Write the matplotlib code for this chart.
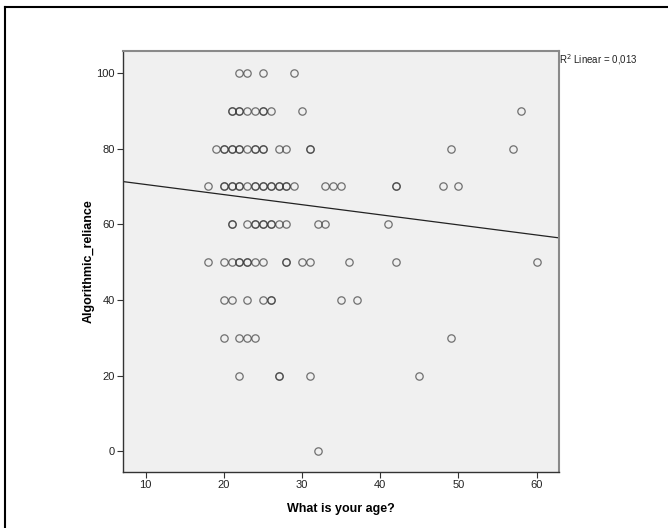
import numpy as np
import matplotlib
matplotlib.use('Agg')
import matplotlib.pyplot as plt
from matplotlib.lines import Line2D

plt.rcParams['font.family'] = ['Liberation Sans', 'DejaVu Sans']

# ── data (age, reliance); repeats = overplotted circles ──
age_100 = [22, 23, 25, 29]
age_90 = [21, 21, 22, 22, 23, 24, 25, 25, 26, 30, 58]
age_80 = [19, 20, 20, 21, 21, 22, 22, 23, 24, 24, 25, 25, 27, 28, 31, 31, 49, 57]
age_70 = [18, 20, 20, 21, 21, 22, 22, 23, 24, 24, 25, 25, 26, 26, 27, 27, 28, 28, 29,
          33, 34, 35, 42, 42, 48, 50]
age_60 = [21, 21, 23, 24, 24, 25, 25, 26, 26, 27, 28, 32, 33, 41]
age_50 = [18, 20, 21, 22, 22, 23, 23, 24, 25, 28, 28, 30, 31, 36, 42, 60]
age_40 = [20, 21, 23, 25, 26, 26, 35, 37]
age_30 = [20, 22, 23, 24, 49]
age_20 = [22, 27, 27, 31, 45]
age_0 = [32]

rows = {100: age_100, 90: age_90, 80: age_80, 70: age_70, 60: age_60,
        50: age_50, 40: age_40, 30: age_30, 20: age_20, 0: age_0}

# linear fit
fit_intercept = 73.2
fit_slope = -0.267
r2_text = 'R$^2$ Linear = 0,013'

x_ticks = [10, 20, 30, 40, 50, 60]
y_ticks = [0, 20, 40, 60, 80, 100]

ages = []
vals = []
for v, a in rows.items():
    ages += a
    vals += [v] * len(a)
ages = np.array(ages)
vals = np.array(vals)

fig = plt.figure(figsize=(6.68, 5.28), dpi=100)
ax = fig.add_axes([0.1846, 0.1066, 0.6527, 0.7974])
ax.set_facecolor('#F0F0F0')

ax.plot(ages, vals, linestyle='none', marker='o', ms=5.3, mfc='none',
        mec='#3a3a3a', mew=0.9, alpha=0.7)

xlim = (7.15, 62.9)
xs = np.array(xlim)
ax.plot(xs, fit_intercept + fit_slope * xs, color='#222222', lw=0.9)

ax.set_xlim(*xlim)
ax.set_ylim(-5.4, 105.9)
ax.set_xticks(x_ticks)
ax.set_yticks(y_ticks)
ax.tick_params(direction='out', length=4, width=0.8, labelsize=8,
               color='#333333', labelcolor='#222222', pad=2)

for s in ['left', 'bottom']:
    ax.spines[s].set_color('#333333')
    ax.spines[s].set_linewidth(1.0)
for s in ['top', 'right']:
    ax.spines[s].set_color('#8a8a8a')
    ax.spines[s].set_linewidth(1.5)

ax.set_xlabel('What is your age?', fontsize=9, fontweight='bold', labelpad=9)
ax.set_ylabel('Algorithmic_reliance', fontsize=9, fontweight='bold', labelpad=1)

fig.text(559 / 668, 1 - 60 / 528, r2_text, fontsize=7, va='center', ha='left',
         color='#222222')

# outer frame (top and left only)
fig.add_artist(Line2D([5 / 668, 1], [1 - 6.7 / 528] * 2, color='black', lw=1.5,
                      transform=fig.transFigure))
fig.add_artist(Line2D([5 / 668] * 2, [0, 1 - 6.7 / 528], color='black', lw=1.5,
                      transform=fig.transFigure))

fig.savefig('out.png', dpi=100)
